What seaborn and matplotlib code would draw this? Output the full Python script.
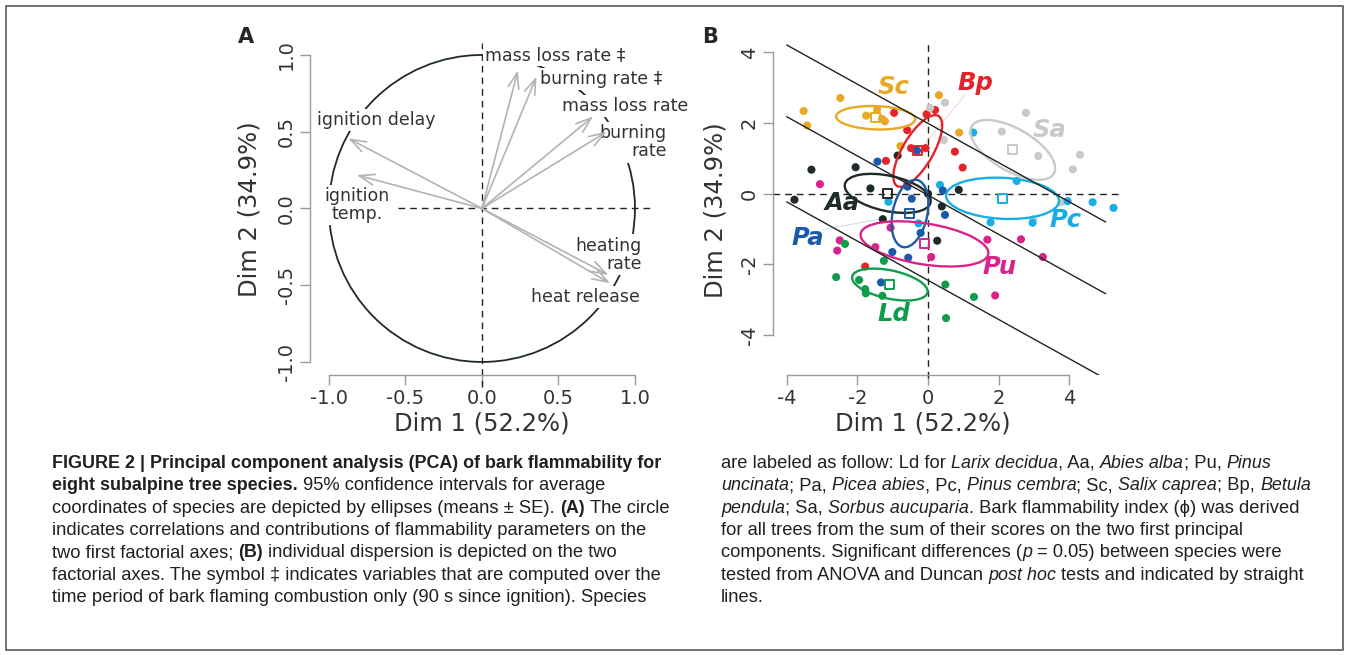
import numpy as np
import pandas as pd
import seaborn as sns
import matplotlib.pyplot as plt
from matplotlib.patches import Ellipse, Circle, Rectangle
from matplotlib.transforms import IdentityTransform
from matplotlib import font_manager

# ---- panel A: variable correlations ----
var_names = ["mass loss rate \u2021", "burning rate \u2021", "mass loss rate", "burning\nrate",
             "heating\nrate", "heat release", "ignition delay", "ignition\ntemp."]
var_dim1 = [0.235, 0.357, 0.727, 0.815, 0.826, 0.837, -0.874, -0.819]
var_dim2 = [0.900, 0.860, 0.600, 0.500, -0.433, -0.487, 0.457, 0.218]
var_lab_x = [0.02, 0.38, 0.523, 1.209, 1.044, 0.676, -0.688, -0.819]
var_lab_y = [1.00, 0.844, 0.668, 0.43, -0.30, -0.577, 0.577, 0.02]
var_lab_ha = ["left", "left", "left", "right", "right", "center", "center", "center"]
ticks_a = [-1.0, -0.5, 0.0, 0.5, 1.0]

# ---- panel B: individuals ----
species = ["Sc", "Bp", "Sa", "Pc", "Aa", "Pa", "Pu", "Ld"]
colors = ["#E9A823", "#E3242B", "#C9C9C9", "#1AADE4", "#1F2B26", "#1A5AA8", "#D9238C", "#0F9D4B"]

sc_x = [-3.52, -3.42, -2.48, -1.75, -1.44, -1.22, -1.30, -0.78, 0.31, 0.88]
sc_y = [2.34, 1.93, 2.71, 2.21, 2.38, 2.05, 2.12, 1.35, 2.79, 1.73]
bp_x = [-0.96, -0.59, -0.04, 0.20, -0.48, -0.07, -1.19, 0.76, 0.98, -1.78, -0.59]
bp_y = [2.29, 1.80, 2.25, 2.37, 1.29, 1.29, 0.93, 1.19, 0.74, -2.06, 0.25]
sa_x = [0.06, 0.48, 0.45, 2.09, 2.77, 3.12, 4.30, 4.10, 2.98, 3.78]
sa_y = [2.43, 2.58, 1.52, 1.76, 2.29, 1.07, 1.10, 0.69, -0.72, -0.24]
pc_x = [1.28, 2.51, 1.77, 2.96, 3.95, 4.66, 5.25, 0.34, -1.12, -0.27]
pc_y = [1.73, 0.36, -0.81, -0.82, -0.21, -0.24, -0.40, 0.25, -0.23, -0.84]
aa_x = [-3.78, -3.30, -2.05, -1.63, -0.86, -1.28, 0.39, 0.87, 0.26, 0.00]
aa_y = [-0.17, 0.68, 0.75, 0.15, 1.08, -0.72, -0.36, 0.11, -1.33, 0.00]
pa_x = [-1.43, -0.58, -0.46, -0.21, 0.48, 0.42, -1.01, -0.56, -1.33, -0.31]
pa_y = [0.91, 0.20, -0.14, -1.11, -0.60, 0.09, -1.65, -1.81, -2.51, 1.22]
pu_x = [-3.06, -2.50, -2.57, -1.49, -1.06, 0.09, 1.68, 2.63, 3.25, 1.90]
pu_y = [0.27, -1.32, -1.61, -1.51, -0.96, -1.79, -1.30, -1.29, -1.79, -2.88]
ld_x = [-2.35, -1.25, -2.60, -1.95, -1.78, -1.76, -1.29, 0.49, 1.30, 0.51]
ld_y = [-1.42, -1.90, -2.36, -2.44, -2.70, -2.82, -2.89, -2.57, -2.92, -3.52]

# ellipse (mean +- SE) per species, same order as `species`
ell_cx = [-1.48, -0.29, 2.40, 2.11, -1.14, -0.51, -0.10, -1.08]
ell_cy = [2.15, 1.21, 1.24, -0.13, 0.01, -0.56, -1.42, -2.57]
ell_a = [1.12, 1.15, 1.34, 1.60, 1.24, 0.97, 1.83, 1.09]
ell_b = [0.33, 0.43, 0.60, 0.58, 0.50, 0.49, 0.58, 0.40]
ell_ang = [-2, 59.5, -30, -3, -12, 78, -9, -12]
sp_lab_x = [-0.98, 1.33, 3.45, 3.88, -2.42, -3.39, 2.02, -0.96]
sp_lab_y = [3.03, 3.12, 1.80, -0.73, -0.27, -1.26, -2.08, -3.39]

# flammability index groups (Duncan), lines dim2 = b + slope*dim1
sig_intercepts = [1.99, -0.04, -2.45]
sig_slope = -0.555
sig_xrange = [-4.0, 5.03]
ticks_b = [-4, -2, 0, 2, 4]

xs_all = [sc_x, bp_x, sa_x, pc_x, aa_x, pa_x, pu_x, ld_x]
ys_all = [sc_y, bp_y, sa_y, pc_y, aa_y, pa_y, pu_y, ld_y]
df = pd.concat([pd.DataFrame({"dim1": x, "dim2": y, "species": s})
                for s, x, y in zip(species, xs_all, ys_all)], ignore_index=True)

sns.set_style("white")
plt.rcParams["font.family"] = ["DejaVu Sans"]
plt.rcParams["axes.unicode_minus"] = False

W, H = 1349, 655
fig = plt.figure(figsize=(W / 100, H / 100), dpi=100)

axA = fig.add_axes([310 / W, 1 - 375 / H, 345 / W, 332 / H])
axB = fig.add_axes([772.7 / W, 1 - 375 / H, 347.3 / W, 331.7 / H])

txt_col = "#333333"
spine_col = "#9a9a9a"


def style_axis(ax, ticks, labels, xlab_x):
    for side in ["top", "right"]:
        ax.spines[side].set_visible(False)
    for side in ["left", "bottom"]:
        ax.spines[side].set_color(spine_col)
        ax.spines[side].set_linewidth(1.0)
        ax.spines[side].set_bounds(ticks[0], ticks[-1])
    ax.set_xticks(ticks)
    ax.set_yticks(ticks)
    ax.set_xticklabels(labels)
    ax.set_yticklabels(labels, rotation=90, va="center")
    ax.tick_params(direction="out", length=7, width=1, color=spine_col, pad=3,
                   labelsize=14, labelcolor=txt_col, bottom=True, left=True)
    ax.set_xlabel("Dim 1 (52.2%)", fontsize=17.5, color=txt_col)
    ax.set_ylabel("Dim 2 (34.9%)", fontsize=17.5, color=txt_col)
    ax.xaxis.set_label_coords(xlab_x, -0.145)
    ax.xaxis.label.set_va("center")
    ax.yaxis.label.set_va("center")
    ax.set_facecolor("none")


# ---- panel A ----
axA.set_xlim(-1.124, 1.131)
axA.set_ylim(-1.085, 1.078)
style_axis(axA, ticks_a, [f"{t:.1f}" for t in ticks_a], 0.4986)
axA.yaxis.set_label_coords(-0.174, 0.5)
axA.add_patch(Circle((0, 0), 1.0, fill=False, ec="#1f2b26", lw=1.3, zorder=1))
axA.axhline(0, xmin=0.255, xmax=1, color="#222222", lw=1.0, dashes=(4.8, 3.6), zorder=1)
axA.axvline(0, ymin=-0.036, ymax=1, color="#222222", lw=1.0, dashes=(4.8, 3.6), zorder=1,
            clip_on=False)
for nm, x, y, lx, ly, ha in zip(var_names, var_dim1, var_dim2, var_lab_x, var_lab_y, var_lab_ha):
    axA.text(lx, ly, nm, ha=ha, va="center", multialignment=ha, fontsize=12.5,
             color=txt_col, linespacing=1.0, zorder=3, clip_on=False,
             bbox=dict(boxstyle="square,pad=0.12", fc="white", ec="none"))
    axA.annotate("", xy=(x, y), xytext=(0, 0), zorder=4,
                 arrowprops=dict(arrowstyle="->,head_length=0.8,head_width=0.28",
                                 mutation_scale=14, color="#b3b3b3", lw=1.2,
                                 shrinkA=0, shrinkB=0))

# ---- panel B ----
axB.set_xlim(-4.396, 5.434)
axB.set_ylim(-5.13, 4.257)
style_axis(axB, ticks_b, [str(t) for t in ticks_b], 0.433)
axB.yaxis.set_label_coords(-0.166, 0.497)
axB.axhline(0, color="#222222", lw=1.0, dashes=(4.8, 3.6), zorder=1)
axB.axvline(0, ymin=-0.009, ymax=1, color="#222222", lw=1.0, dashes=(4.8, 3.6), zorder=1,
            clip_on=False)

pal = dict(zip(species, colors))
sns.scatterplot(data=df, x="dim1", y="dim2", hue="species", palette=pal, s=34,
                edgecolor="none", linewidth=0, legend=False, ax=axB, zorder=2)
for sp, col, cx, cy, a, b, ang, lx, ly in zip(species, colors, ell_cx, ell_cy, ell_a, ell_b,
                                              ell_ang, sp_lab_x, sp_lab_y):
    axB.add_patch(Ellipse((cx, cy), 2 * a, 2 * b, angle=ang, fill=False, ec=col, lw=1.7, zorder=3))
    axB.scatter([cx], [cy], marker="s", s=42, facecolors="none", edgecolors=col,
                linewidths=1.4, zorder=4)
    axB.text(lx, ly, sp, color=col, fontsize=17.5, fontweight="bold", fontstyle="italic",
             ha="center", va="center", zorder=6)

# faint label leaders for Bp and Pa
axB.plot([1.05, -0.08], [2.80, 1.42], color=colors[1], lw=0.5, alpha=0.3, zorder=1)
axB.plot([-2.96, -1.36], [-1.01, -0.72], color=colors[5], lw=0.5, alpha=0.3, zorder=1)

xs_line = np.array(sig_xrange)
for b0 in sig_intercepts:
    axB.plot(xs_line, b0 + sig_slope * xs_line, color="#222222", lw=1.0, zorder=5)

# panel letters
fig.text(246 / W, 1 - 37 / H, "A", fontsize=15, fontweight="bold", ha="center", va="center")
fig.text(710 / W, 1 - 37 / H, "B", fontsize=15, fontweight="bold", ha="center", va="center")

# frame
fig.add_artist(Rectangle((6, 5), 1337, 644, transform=IdentityTransform(), fill=False,
                         ec="#5a5a5a", lw=1.2))

# ---- caption ----
names = {f.name for f in font_manager.fontManager.ttflist}
cap_font = "Liberation Sans Narrow" if "Liberation Sans Narrow" in names else "Liberation Sans"
renderer = fig.canvas.get_renderer()
ident = IdentityTransform()
cap_scale = {"r": 1.0, "b": 1.0, "i": 0.975}


def cap_kw(style, fs):
    kw = dict(family=[cap_font, "DejaVu Sans"], fontsize=fs * cap_scale[style], color="#231f20")
    if style == "b":
        kw["fontweight"] = "bold"
    if style == "i":
        kw["fontstyle"] = "italic"
    return kw


def width_of(s, style, fs):
    t = fig.text(0, 0, s, transform=ident, **cap_kw(style, fs))
    w = t.get_window_extent(renderer).width
    t.remove()
    return w


ref_line = "indicates correlations and contributions of flammability parameters on the"
cap_fs = 11 * 593 / width_of(ref_line, "r", 11)
bold_line = "FIGURE 2 | Principal component analysis (PCA) of bark flammability for"
cap_scale["b"] = 605 / width_of(bold_line, "b", cap_fs)


def draw_runs(x, y, runs):
    for txt, style in runs:
        sp_w = width_of("a a", style, cap_fs) - width_of("aa", style, cap_fs)
        lead = len(txt) - len(txt.lstrip(" "))
        trail = len(txt) - len(txt.rstrip(" "))
        core = txt.strip(" ")
        x += lead * sp_w
        if core:
            t = fig.text(x, y, core, transform=ident, va="baseline", ha="left",
                         **cap_kw(style, cap_fs))
            x += t.get_window_extent(renderer).width
        x += trail * sp_w


left_lines = [
    [("FIGURE 2 | Principal component analysis (PCA) of bark flammability for", "b")],
    [("eight subalpine tree species.", "b"), (" 95% confidence intervals for average", "r")],
    [("coordinates of species are depicted by ellipses (means \u00b1 SE). ", "r"), ("(A)", "b"),
     (" The circle", "r")],
    [("indicates correlations and contributions of flammability parameters on the", "r")],
    [("two first factorial axes; ", "r"), ("(B)", "b"),
     (" individual dispersion is depicted on the two", "r")],
    [("factorial axes. The symbol \u2021 indicates variables that are computed over the", "r")],
    [("time period of bark flaming combustion only (90 s since ignition). Species", "r")],
]
right_lines = [
    [("are labeled as follow: Ld for ", "r"), ("Larix decidua", "i"), (", Aa, ", "r"),
     ("Abies alba", "i"), ("; Pu, ", "r"), ("Pinus", "i")],
    [("uncinata", "i"), ("; Pa, ", "r"), ("Picea abies", "i"), (", Pc, ", "r"), ("Pinus cembra", "i"),
     ("; Sc, ", "r"), ("Salix caprea", "i"), ("; Bp, ", "r"), ("Betula", "i")],
    [("pendula", "i"), ("; Sa, ", "r"), ("Sorbus aucuparia", "i"),
     (". Bark flammability index (\u03d5) was derived", "r")],
    [("for all trees from the sum of their scores on the two first principal", "r")],
    [("components. Significant differences (", "r"), ("p", "i"),
     (" = 0.05) between species were", "r")],
    [("tested from ANOVA and Duncan ", "r"), ("post hoc", "i"),
     (" tests and indicated by straight", "r")],
    [("lines.", "r")],
]
for k, runs in enumerate(left_lines):
    draw_runs(52, H - 468 - 22.3 * k, runs)
for k, runs in enumerate(right_lines):
    draw_runs(721, H - 468 - 22.3 * k, runs)

fig.savefig("out.png", dpi=100)
